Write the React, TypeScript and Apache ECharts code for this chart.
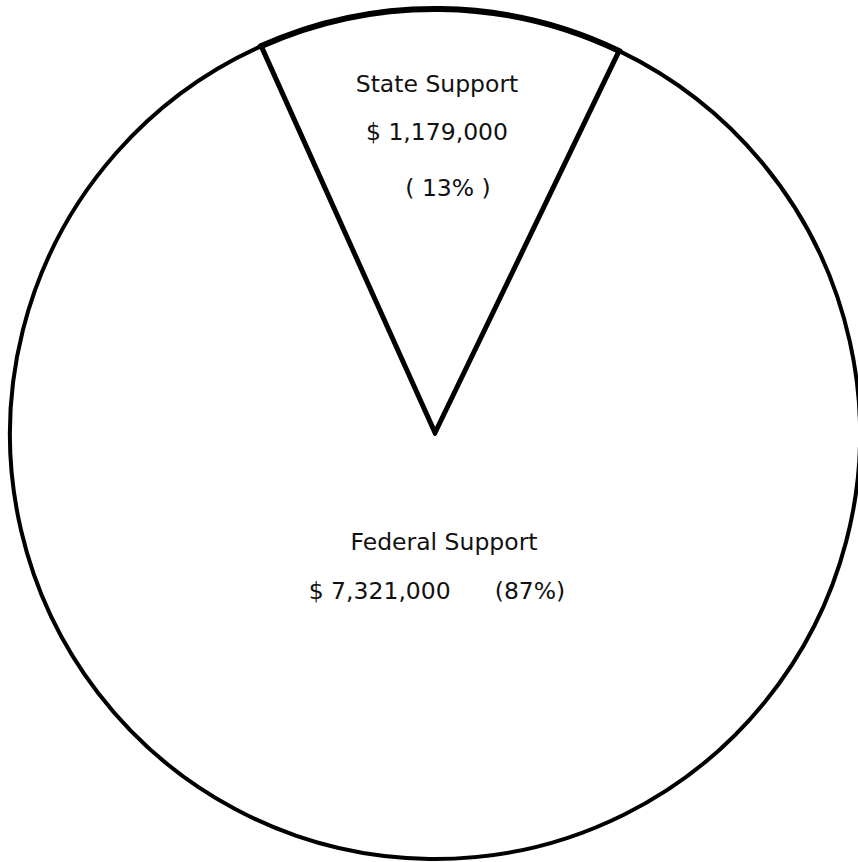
import React, { useEffect, useRef } from "react";
import * as echarts from "echarts";

const categories = ["State Support", "Federal Support"];
const amounts = [1179000, 7321000];
const percentLabels = ["13%", "87%"];

const fmtMoney = (v: number) => "$ " + v.toLocaleString("en-US");

export default function App() {
  const ref = useRef<HTMLDivElement>(null);
  useEffect(() => {
    if (!ref.current) return;
    const chart = echarts.init(ref.current, null, { renderer: "svg" });
    const font = "'DejaVu Sans', 'Liberation Sans', sans-serif";
    const base = { fontFamily: font, fontSize: 23.5, color: "#111" };
    chart.setOption({
      animation: false,
      backgroundColor: "#ffffff",
      series: [
        {
          type: "pie",
          center: [435, 434],
          radius: [0, 425],
          startAngle: 114.2,
          clockwise: true,
          silent: true,
          emphasis: { disabled: true },
          itemStyle: { color: "#ffffff", borderColor: "#000000", borderWidth: 4 },
          label: {
            show: true,
            position: "inside",
            align: "center",
            formatter: (p: any) => {
              const i = p.dataIndex;
              if (i === 0) {
                return `{n|${categories[i]}}\n{v|${fmtMoney(amounts[i])}}\n{q|( ${percentLabels[i]} )}`;
              }
              return `{f|${categories[i]}}\n{v|${fmtMoney(amounts[i])}}{p|(${percentLabels[i]})}`;
            },
            rich: {
              n: { ...base, lineHeight: 48 },
              v: { ...base, lineHeight: 49 },
              q: { ...base, lineHeight: 62, padding: [0, 0, 0, 22] },
              f: { ...base, lineHeight: 49, padding: [0, 0, 0, 14] },
              p: { ...base, lineHeight: 49, padding: [0, 0, 0, 44] },
            },
          },
          labelLine: { show: false },
          labelLayout: (params: any) => ({
            x: 437,
            y: params.dataIndex === 0 ? 139 : 566,
            align: "center",
            verticalAlign: "middle",
          }),
          data: categories.map((name, i) => ({
            name,
            value: amounts[i],
            itemStyle: i === 0 ? { borderWidth: 6 } : { borderWidth: 4 },
          })),
        },
      ],
    });
    return () => chart.dispose();
  }, []);
  return (
    <div
      ref={ref}
      style={{ position: "fixed", left: 0, top: 0, width: 858, height: 862, background: "#fff" }}
    />
  );
}
